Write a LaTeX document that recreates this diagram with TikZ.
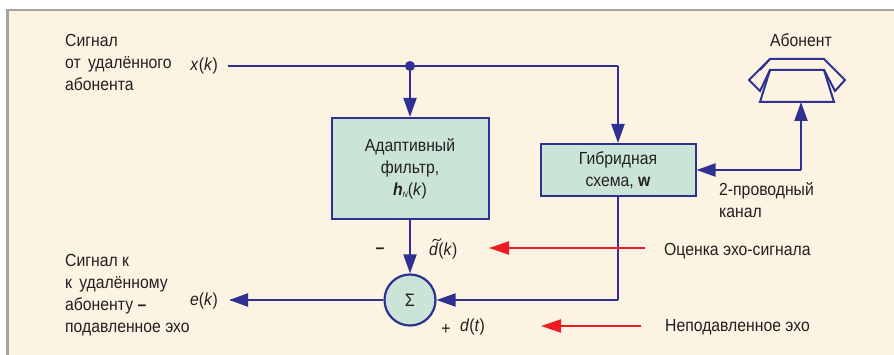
\documentclass[tikz,border=0pt]{standalone}
\usepackage{fontspec}
\setmainfont{Liberation Sans}[FakeStretch=0.9]
\usetikzlibrary{arrows.meta}
\definecolor{bgc}{HTML}{FDF3E3}
\definecolor{frm}{HTML}{A3A3A3}
\definecolor{blu}{HTML}{2E3192}
\definecolor{grn}{HTML}{CAE5D8}
\definecolor{rd}{HTML}{ED1C24}
\definecolor{txt}{HTML}{231F20}
\tikzset{
  x=1pt,y=-1pt,
  lab/.style={inner sep=0pt,font=\fontsize{17.5}{22}\selectfont,text=txt},
  leftlab/.style={lab,anchor=west,align=left},
  box/.style={draw=blu,line width=2pt,fill=grn,align=center,lab},
  wire/.style={draw=blu,line width=2pt},
  arr/.style={wire,-{Triangle[length=19pt,width=13pt]}},
  redarr/.style={draw=rd,line width=2pt,-{Triangle[length=20pt,width=13pt]}},
  phone/.style={draw=blu,line width=2pt,line join=miter},
}
\newcommand{\ital}[1]{\textit{#1}}
\begin{document}
\begin{tikzpicture}
\useasboundingbox (0,0) rectangle (894,355);
\fill[white] (0,0) rectangle (894,355);
\fill[bgc] (7.5,10) rectangle (894,355);
\draw[frm,line width=2.6pt] (7.5,355) -- (7.5,10) -- (894,10);
% left labels
\node[leftlab] (sig1) at (65,62) {Сигнал\\от\, удалённого\\абонента};
\node[lab,anchor=east] (xk) at (218,66) {\ital{x}(\ital{k})};
\node[leftlab] (sig2) at (65,295) {Сигнал к\\к\, удалённому\\абоненту \textbf{–}\\подавленное эхо};
\node[lab,anchor=east] (ek) at (218,301) {\ital{e}(\ital{k})};
% boxes
\node[box,minimum width=157pt,minimum height=101pt] (af) at (410,168.5) {Адаптивный\\фильтр,\\\textbf{\ital{h}}\raisebox{-2pt}{\fontsize{8}{8}\selectfont\ital{N}}(\ital{k})};
\node[box,minimum width=155pt,minimum height=52pt] (hy) at (618,170) {Гибридная\\схема, \textbf{w}};
\node[draw=blu,line width=2.2pt,fill=grn,circle,minimum size=51pt,inner sep=0pt,text=txt] (sum) at (410,300) {\fontsize{18}{18}\selectfont Σ};
% phone
\coordinate (ph) at (801,102);
\draw[phone] (760,70) -- (770,59) -- (824,59) -- (845,80) -- (835,91) -- (824,70);
\draw[phone] (769,70) -- (824,70) -- (834,102) -- (760,102) -- (770,70);
\draw[phone] (770,70) -- (760,91) -- (749,80) -- (770,59);
\node[lab] (ab) at (801,40) {Абонент};
% wires
\coordinate (tee) at (410,66);
\coordinate (rc) at (618,66);
\coordinate (ch) at (801,170);
\fill[blu] (tee) circle (5pt);
\draw[wire] (xk.east)++(10,0) -- (tee) -- (rc);
\draw[arr] (rc) -- (hy.north -| rc);
\draw[arr] (tee) -- (af.north);
\draw[arr] (af.south) -- (sum.north);
\coordinate (hs) at (hy.south);
\coordinate (hc) at (618,300);
\draw[wire] (hs) -- (hc);
\draw[arr] (hc) -- (sum.east);
\draw[arr] (sum.west) -- (229,300);
\draw[arr] (ch) -- (ph);
\draw[arr] (ch) -- (hy.east);
% labels
\node[leftlab] (ch2) at (719,200) {2-проводный\\канал};
\node[lab] (minus) at (380,251) {\textbf{–}};
\node[lab,anchor=west] (dk) at (429,251) {\ital{d}(\ital{k})};
\draw[txt,line width=0.9pt] (432.5,241.5) .. controls (434.5,237.5) and (437,240.5) .. (438.5,240.5) .. controls (439.5,240.5) and (440.5,240) .. (441,238.5);
\node[lab] (plus) at (446,329) {+};
\node[lab,anchor=west] (dt) at (460,327) {\ital{d}(\ital{t})};
\node[leftlab] (oc) at (664,251) {Оценка эхо-сигнала};
\node[leftlab] (ne) at (665,327) {Неподавленное эхо};
\coordinate (r1s) at (645,248);
\coordinate (r1e) at (489,248);
\coordinate (r2s) at (641,326);
\coordinate (r2e) at (541,326);
\draw[redarr] (r1s) -- (r1e);
\draw[redarr] (r2s) -- (r2e);
\end{tikzpicture}
\end{document}
